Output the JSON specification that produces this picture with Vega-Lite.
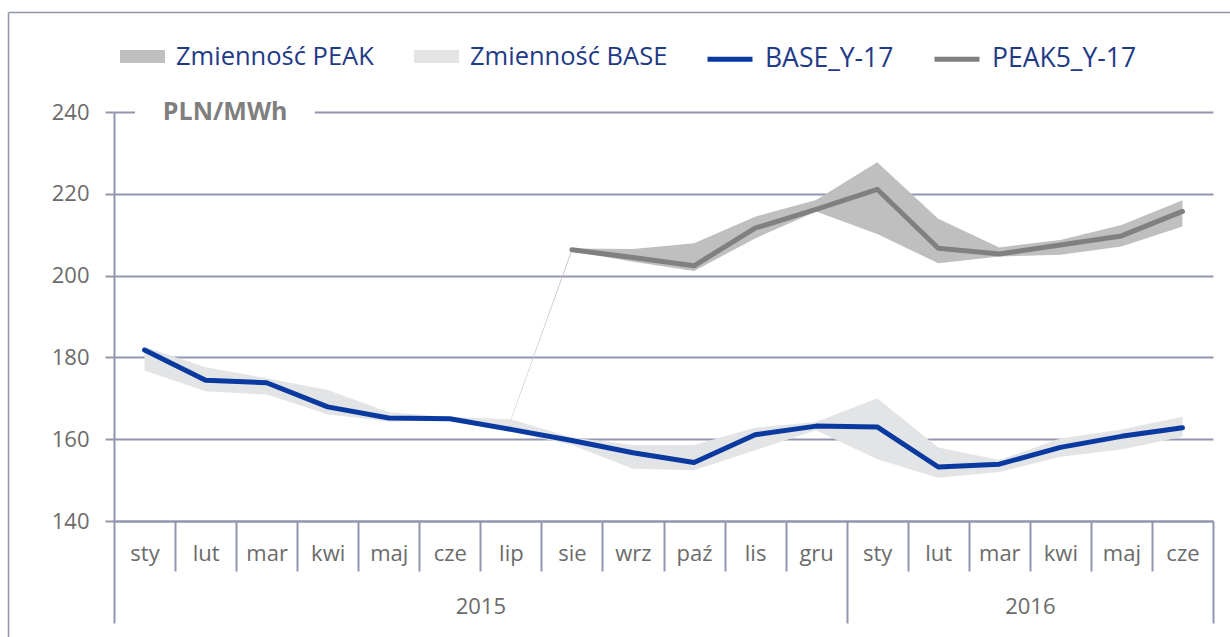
{
  "$schema": "https://vega.github.io/schema/vega-lite/v6.json",
  "width": 1099,
  "height": 409,
  "autosize": {"type": "none"},
  "padding": {"left": 114, "top": 112, "right": 17, "bottom": 116},
  "background": "white",
  "config": {"view": {"stroke": null}, "font": "Open Sans"},
  "datasets": {
    "months": [
      {"i": 0, "BASE_Y-17": 181.8, "blo": 176.8, "bhi": 182.6, "PEAK5_Y-17": null, "plo": null, "phi": null},
      {"i": 1, "BASE_Y-17": 174.4, "blo": 171.7, "bhi": 177.6, "PEAK5_Y-17": null, "plo": null, "phi": null},
      {"i": 2, "BASE_Y-17": 173.8, "blo": 170.9, "bhi": 174.9, "PEAK5_Y-17": null, "plo": null, "phi": null},
      {"i": 3, "BASE_Y-17": 167.9, "blo": 166.1, "bhi": 172.0, "PEAK5_Y-17": null, "plo": null, "phi": null},
      {"i": 4, "BASE_Y-17": 165.2, "blo": 164.3, "bhi": 166.6, "PEAK5_Y-17": null, "plo": null, "phi": null},
      {"i": 5, "BASE_Y-17": 165.0, "blo": 164.6, "bhi": 165.4, "PEAK5_Y-17": null, "plo": null, "phi": null},
      {"i": 6, "BASE_Y-17": 162.4, "blo": 161.8, "bhi": 164.9, "PEAK5_Y-17": null, "plo": 164.6, "phi": 164.9},
      {"i": 7, "BASE_Y-17": 159.7, "blo": 158.6, "bhi": 160.4, "PEAK5_Y-17": 206.3, "plo": 206.0, "phi": 206.6},
      {"i": 8, "BASE_Y-17": 156.7, "blo": 152.8, "bhi": 158.6, "PEAK5_Y-17": 204.4, "plo": 203.4, "phi": 206.5},
      {"i": 9, "BASE_Y-17": 154.3, "blo": 152.4, "bhi": 158.6, "PEAK5_Y-17": 202.4, "plo": 201.1, "phi": 207.9},
      {"i": 10, "BASE_Y-17": 161.1, "blo": 157.3, "bhi": 162.8, "PEAK5_Y-17": 211.6, "plo": 209.1, "phi": 214.4},
      {"i": 11, "BASE_Y-17": 163.2, "blo": 162.2, "bhi": 164.2, "PEAK5_Y-17": 216.2, "plo": 215.7, "phi": 218.5},
      {"i": 12, "BASE_Y-17": 163.0, "blo": 155.1, "bhi": 170.0, "PEAK5_Y-17": 221.1, "plo": 210.2, "phi": 227.7},
      {"i": 13, "BASE_Y-17": 153.2, "blo": 150.6, "bhi": 158.0, "PEAK5_Y-17": 206.7, "plo": 203.0, "phi": 213.9},
      {"i": 14, "BASE_Y-17": 153.9, "blo": 152.0, "bhi": 154.9, "PEAK5_Y-17": 205.3, "plo": 204.7, "phi": 206.9},
      {"i": 15, "BASE_Y-17": 158.0, "blo": 155.7, "bhi": 160.2, "PEAK5_Y-17": 207.5, "plo": 205.1, "phi": 208.7},
      {"i": 16, "BASE_Y-17": 160.7, "blo": 157.5, "bhi": 162.4, "PEAK5_Y-17": 209.7, "plo": 207.1, "phi": 212.4},
      {"i": 17, "BASE_Y-17": 162.8, "blo": 160.6, "bhi": 165.5, "PEAK5_Y-17": 215.7, "plo": 212.0, "phi": 218.4}
    ]
  },
  "layer": [
    {
      "data": {"values": [{"f": 0}]},
      "mark": {"type": "point", "opacity": 0},
      "encoding": {
        "x": {"field": "f", "type": "quantitative", "scale": {"domain": [0, 1], "range": [-106, 1116], "nice": false, "zero": false},
          "axis": {"orient": "top", "offset": 100, "title": null, "labels": false, "ticks": false, "grid": false, "domainColor": "#9195ad", "domainWidth": 1.5}},
        "y": {"field": "f", "type": "quantitative", "scale": {"domain": [0, 1], "range": [525, -100], "nice": false, "zero": false},
          "axis": {"orient": "left", "offset": 106, "title": null, "labels": false, "ticks": false, "grid": false, "domainColor": "#9195ad", "domainWidth": 1.5}}
      }
    },
    {
      "layer": [
        {
          "data": {"name": "months"},
          "mark": {"type": "area"},
          "encoding": {
            "x": {"field": "i", "type": "quantitative", "scale": {"domain": [-0.5, 17.5], "nice": false, "zero": false},
              "axis": {"orient": "bottom", "title": null, "values": [0,1,2,3,4,5,6,7,8,9,10,11,12,13,14,15,16,17],
                "labelExpr": "['sty','lut','mar','kwi','maj','cze','lip','sie','wrz','paź','lis','gru','sty','lut','mar','kwi','maj','cze'][datum.value]",
                "ticks": false, "tickSize": 0, "grid": false, "domain": true, "domainColor": "#9195ad", "domainWidth": 2,
                "labelPadding": 32, "labelBaseline": "middle", "labelFontSize": 22, "labelColor": "#6b6b6b", "labelFlush": false, "labelOverlap": false}},
            "y": {"field": "blo", "type": "quantitative", "scale": {"domain": [140, 240], "nice": false, "zero": false},
              "axis": {"orient": "left", "title": null, "values": [140,160,180,200,220,240], "grid": true, "gridColor": "#9195ad", "gridWidth": 2,
                "domainColor": "#9195ad", "domainWidth": 2, "tickColor": "#9195ad", "tickWidth": 2, "tickSize": 9,
                "labelPadding": 16, "labelFontSize": 22, "labelColor": "#6b6b6b"}},
            "y2": {"field": "bhi"},
            "fill": {"datum": "Zmienność BASE", "type": "nominal",
              "scale": {"domain": ["Zmienność PEAK", "Zmienność BASE"], "range": ["#bfbfbf", "#e3e4e6"]},
              "legend": {"orient": "none", "legendX": 6, "legendY": -78, "direction": "horizontal", "columns": 2, "title": null,
                "symbolType": "M-1,-0.29H1V0.29H-1Z", "symbolSize": 2025, "symbolStrokeWidth": 0, "symbolOpacity": 1,
                "labelFontSize": 25.5, "labelColor": "#1f3a86", "labelFont": "Open Sans", "labelOffset": 11,
                "columnPadding": 40, "labelLimit": 400}}
          }
        },
        {
          "data": {"name": "months"},
          "mark": {"type": "area"},
          "encoding": {
            "x": {"field": "i", "type": "quantitative",
              "axis": {"orient": "bottom", "title": null, "values": [0.5,1.5,2.5,3.5,4.5,5.5,6.5,7.5,8.5,9.5,10.5,12.5,13.5,14.5,15.5,16.5],
                "ticks": true, "tickSize": 50, "tickColor": "#9195ad", "tickWidth": 2, "labels": false, "domain": false, "grid": false}},
            "y": {"field": "plo", "type": "quantitative", "axis": null},
            "y2": {"field": "phi"},
            "fill": {"datum": "Zmienność PEAK", "type": "nominal"}
          }
        },
        {
          "data": {"name": "months"},
          "transform": [{"fold": ["BASE_Y-17", "PEAK5_Y-17"], "as": ["series", "v"]}],
          "mark": {"type": "line", "strokeWidth": 5, "strokeCap": "round", "strokeJoin": "round"},
          "encoding": {
            "x": {"field": "i", "type": "quantitative",
              "axis": {"orient": "bottom", "title": null, "values": [5.5, 14.5], "labelExpr": "datum.value < 10 ? '2015' : '2016'",
                "ticks": false, "tickSize": 0, "labelPadding": 85, "labelBaseline": "middle", "labelFontSize": 22, "labelColor": "#6b6b6b",
                "domain": false, "grid": false, "labelFlush": false}},
            "y": {"field": "v", "type": "quantitative", "axis": null},
            "stroke": {"field": "series", "type": "nominal",
              "scale": {"domain": ["BASE_Y-17", "PEAK5_Y-17"], "range": ["#0a3aa0", "#808080"]},
              "legend": {"orient": "none", "legendX": 591, "legendY": -78, "direction": "horizontal", "columns": 2, "title": null,
                "symbolType": "stroke", "symbolSize": 2025, "symbolStrokeWidth": 5,
                "labelFontSize": 26.5, "labelColor": "#1f3a86", "labelFont": "Open Sans", "labelOffset": 10,
                "columnPadding": 30, "labelLimit": 400}}
          }
        },
        {
          "data": {"values": [{"label": "PLN/MWh"}]},
          "mark": {"type": "rect", "color": "white"},
          "encoding": {
            "x": {"datum": -0.156, "type": "quantitative",
              "axis": {"orient": "bottom", "title": null, "values": [-0.5, 11.5, 17.5], "ticks": true, "tickSize": 102, "tickColor": "#9195ad", "tickWidth": 2,
                "labels": false, "domain": false, "grid": false}},
            "x2": {"datum": 2.79},
            "y": {"datum": 236.8, "type": "quantitative", "axis": null},
            "y2": {"datum": 243}
          }
        },
        {
          "data": {"values": [{"label": "PLN/MWh"}]},
          "mark": {"type": "text", "align": "left", "baseline": "middle", "fontWeight": "bold", "fontSize": 25, "color": "#7f7f7f", "font": "Open Sans"},
          "encoding": {
            "x": {"datum": 0.3, "type": "quantitative", "axis": null},
            "y": {"datum": 240, "type": "quantitative", "axis": null},
            "text": {"field": "label"}
          }
        }
      ],
      "resolve": {"axis": {"x": "independent", "y": "independent"}}
    }
  ],
  "resolve": {"scale": {"x": "independent", "y": "independent"}, "axis": {"x": "independent", "y": "independent"}}
}
